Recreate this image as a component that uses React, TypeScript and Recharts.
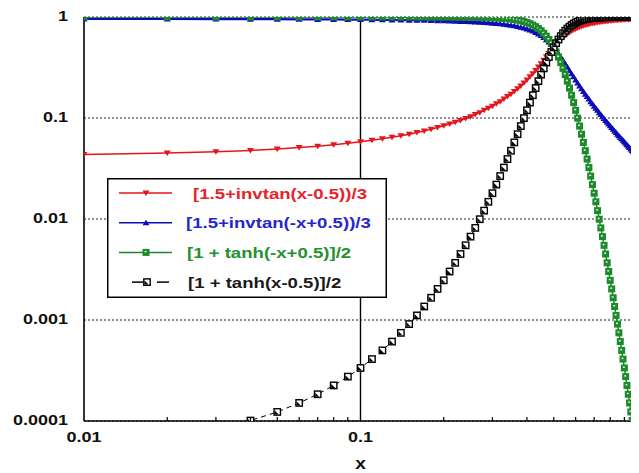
import { LineChart, Line, XAxis, YAxis, CartesianGrid, ReferenceLine, Legend, Label } from "recharts";

// ─── Data (x = 0.01 … 1.00) ─────────────────────────────────────────────────
const xs = [
  0.01, 0.02, 0.03, 0.04, 0.05, 0.06, 0.07, 0.08, 0.09, 0.1,
  0.11, 0.12, 0.13, 0.14, 0.15, 0.16, 0.17, 0.18, 0.19, 0.2,
  0.21, 0.22, 0.23, 0.24, 0.25, 0.26, 0.27, 0.28, 0.29, 0.3,
  0.31, 0.32, 0.33, 0.34, 0.35, 0.36, 0.37, 0.38, 0.39, 0.4,
  0.41, 0.42, 0.43, 0.44, 0.45, 0.46, 0.47, 0.48, 0.49, 0.5,
  0.51, 0.52, 0.53, 0.54, 0.55, 0.56, 0.57, 0.58, 0.59, 0.6,
  0.61, 0.62, 0.63, 0.64, 0.65, 0.66, 0.67, 0.68, 0.69, 0.7,
  0.71, 0.72, 0.73, 0.74, 0.75, 0.76, 0.77, 0.78, 0.79, 0.8,
  0.81, 0.82, 0.83, 0.84, 0.85, 0.86, 0.87, 0.88, 0.89, 0.9,
  0.91, 0.92, 0.93, 0.94, 0.95, 0.96, 0.97, 0.98, 0.99, 1.0,
];

// [1.5+invtan(x-0.5))/3
const invtanUp = [
  0.0435, 0.0449, 0.0463, 0.0478, 0.0493, 0.0509, 0.0526, 0.0543, 0.0562, 0.0581,
  0.0601, 0.0622, 0.0644, 0.0667, 0.0692, 0.0718, 0.0745, 0.0774, 0.0804, 0.0837,
  0.0871, 0.0907, 0.0946, 0.0988, 0.103, 0.108, 0.113, 0.119, 0.125, 0.131,
  0.138, 0.145, 0.154, 0.163, 0.172, 0.183, 0.195, 0.208, 0.222, 0.238,
  0.256, 0.275, 0.296, 0.32, 0.345, 0.373, 0.403, 0.434, 0.467, 0.5,
  0.533, 0.566, 0.597, 0.627, 0.655, 0.68, 0.704, 0.725, 0.744, 0.762,
  0.778, 0.792, 0.805, 0.817, 0.828, 0.837, 0.846, 0.855, 0.862, 0.869,
  0.875, 0.881, 0.887, 0.892, 0.897, 0.901, 0.905, 0.909, 0.913, 0.916,
  0.92, 0.923, 0.926, 0.928, 0.931, 0.933, 0.936, 0.938, 0.94, 0.942,
  0.944, 0.946, 0.947, 0.949, 0.951, 0.952, 0.954, 0.955, 0.956, 0.958,
];

// [1.5+invtan(-x+0.5))/3
const invtanDown = [
  0.956, 0.955, 0.954, 0.952, 0.951, 0.949, 0.947, 0.946, 0.944, 0.942,
  0.94, 0.938, 0.936, 0.933, 0.931, 0.928, 0.926, 0.923, 0.92, 0.916,
  0.913, 0.909, 0.905, 0.901, 0.897, 0.892, 0.887, 0.881, 0.875, 0.869,
  0.862, 0.855, 0.846, 0.837, 0.828, 0.817, 0.805, 0.792, 0.778, 0.762,
  0.744, 0.725, 0.704, 0.68, 0.655, 0.627, 0.597, 0.566, 0.533, 0.5,
  0.467, 0.434, 0.403, 0.373, 0.345, 0.32, 0.296, 0.275, 0.256, 0.238,
  0.222, 0.208, 0.195, 0.183, 0.172, 0.163, 0.154, 0.145, 0.138, 0.131,
  0.125, 0.119, 0.113, 0.108, 0.103, 0.0988, 0.0946, 0.0907, 0.0871, 0.0837,
  0.0804, 0.0774, 0.0745, 0.0718, 0.0692, 0.0667, 0.0644, 0.0622, 0.0601, 0.0581,
  0.0562, 0.0543, 0.0526, 0.0509, 0.0493, 0.0478, 0.0463, 0.0449, 0.0435, 0.0422,
];

// [1 + tanh(-x+0.5)]/2
const tanhDown = [
  0.9999, 0.9999, 0.9999, 0.9999, 0.9999, 0.9998, 0.9998, 0.9998, 0.9997, 0.9997,
  0.9996, 0.9995, 0.9994, 0.9993, 0.9991, 0.9989, 0.9986, 0.9983, 0.998, 0.9975,
  0.997, 0.9963, 0.9955, 0.9945, 0.9933, 0.9918, 0.9901, 0.9879, 0.9852, 0.982,
  0.9781, 0.9734, 0.9677, 0.9608, 0.9526, 0.9427, 0.9309, 0.9168, 0.9003, 0.8808,
  0.8581, 0.832, 0.8022, 0.7685, 0.7311, 0.69, 0.6457, 0.5987, 0.5498, 0.5,
  0.4502, 0.4013, 0.3543, 0.31, 0.2689, 0.2315, 0.1978, 0.168, 0.1419, 0.1192,
  0.0997, 0.0832, 0.0691, 0.0573, 0.0474, 0.0392, 0.0323, 0.0266, 0.0219, 0.018,
  0.0148, 0.0121, 0.00995, 0.00816, 0.00669, 0.00549, 0.0045, 0.00368, 0.00302, 0.00247,
  0.00203, 0.00166, 0.00136, 0.00111, 0.000911, 0.000746, 0.000611, 0.0005, 0.00041, 0.000335,
  0.000275, 0.000225, 0.000184, 0.000151, 0.000123, 0.000101, 0.0000827, 0.0000677, 0.0000554, 0.0000454,
];

// [1 + tanh(x-0.5)]/2
const tanhUp = [
  0.0000554, 0.0000677, 0.0000827, 0.000101, 0.000123, 0.000151, 0.000184, 0.000225, 0.000275, 0.000335,
  0.00041, 0.0005, 0.000611, 0.000746, 0.000911, 0.00111, 0.00136, 0.00166, 0.00203, 0.00247,
  0.00302, 0.00368, 0.0045, 0.00549, 0.00669, 0.00816, 0.00995, 0.0121, 0.0148, 0.018,
  0.0219, 0.0266, 0.0323, 0.0392, 0.0474, 0.0573, 0.0691, 0.0832, 0.0997, 0.1192,
  0.1419, 0.168, 0.1978, 0.2315, 0.2689, 0.31, 0.3543, 0.4013, 0.4502, 0.5,
  0.5498, 0.5987, 0.6457, 0.69, 0.7311, 0.7685, 0.8022, 0.832, 0.8581, 0.8808,
  0.9003, 0.9168, 0.9309, 0.9427, 0.9526, 0.9608, 0.9677, 0.9734, 0.9781, 0.982,
  0.9852, 0.9879, 0.9901, 0.9918, 0.9933, 0.9945, 0.9955, 0.9963, 0.997, 0.9975,
  0.998, 0.9983, 0.9986, 0.9989, 0.9991, 0.9993, 0.9994, 0.9995, 0.9996, 0.9997,
  0.9997, 0.9998, 0.9998, 0.9998, 0.9999, 0.9999, 0.9999, 0.9999, 0.9999, 1.0,
];

const xTicks = [0.01, 0.02, 0.03, 0.04, 0.05, 0.06, 0.07, 0.08, 0.09, 0.1, 0.2, 0.3, 0.4, 0.5, 0.6, 0.7, 0.8, 0.9, 1];
const xMajor = [0.01, 0.1, 1];
const yTicks = [0.0001, 0.001, 0.01, 0.1, 1];

const seriesNames = [
  "[1.5+invtan(x-0.5))/3",
  "[1.5+invtan(-x+0.5))/3",
  "[1 + tanh(-x+0.5)]/2",
  "[1 + tanh(x-0.5)]/2",
];

const data = xs.map((x, i) => ({
  x,
  red: invtanUp[i],
  blue: invtanDown[i],
  green: tanhDown[i],
  black: tanhUp[i],
}));

// ─── Styling ─────────────────────────────────────────────────────────────────
const RED = "#e3161e";
const BLUE = "#0c0cb8";
const GREEN = "#1b8a2a";
const BLACK = "#000";
const FONT = "'Liberation Sans', Arial, sans-serif";
const SX = 1.2; // the source image is stretched horizontally

// ─── Markers ─────────────────────────────────────────────────────────────────
function RedMark({ cx, cy }: { cx: number; cy: number }) {
  return <polygon points={`${cx - 3.5},${cy - 2.5} ${cx + 3.5},${cy - 2.5} ${cx},${cy + 3}`} fill={RED} />;
}
function BlueMark({ cx, cy }: { cx: number; cy: number }) {
  return <polygon points={`${cx - 3.5},${cy + 2.5} ${cx + 3.5},${cy + 2.5} ${cx},${cy - 3}`} fill={BLUE} />;
}
function GreenMark({ cx, cy }: { cx: number; cy: number }) {
  return (
    <g>
      <rect x={cx - 3.5} y={cy - 3.5} width={7} height={7} fill={GREEN} />
      <rect x={cx - 1.5} y={cy - 1.5} width={2} height={1.5} fill="#d8f0d8" />
    </g>
  );
}
function BlackMark({ cx, cy }: { cx: number; cy: number }) {
  return (
    <g>
      <rect x={cx - 3.2} y={cy - 3.2} width={6.4} height={6.4} fill="#fff" stroke={BLACK} strokeWidth={1.4} />
      <polygon points={`${cx - 2.5},${cy + 2.5} ${cx + 1.5},${cy + 2.5} ${cx - 2.5},${cy - 1.5}`} fill={BLACK} />
    </g>
  );
}

const dotFn = (Mark: any, tag: string) => (p: any) =>
  p.cx == null || p.cy == null ? <g key={`${tag}${p.index}`} /> : <Mark key={`${tag}${p.index}`} cx={p.cx} cy={p.cy} />;

// ─── Axis ticks ──────────────────────────────────────────────────────────────
function YTick({ x, y, payload }: any) {
  return (
    <text
      transform={`translate(${x - 16},${y + 4}) scale(${SX},1)`}
      textAnchor="end"
      fontFamily={FONT}
      fontWeight="bold"
      fontSize={15}
      fill="#111"
    >
      {String(payload.value)}
    </text>
  );
}

function XTick({ x, y, payload }: any) {
  const major = xMajor.includes(payload.value);
  if (!major) return <line x1={x} y1={y} x2={x} y2={y - 4} stroke={BLACK} strokeWidth={1.2} />;
  return (
    <text
      transform={`translate(${x},${y + 21}) scale(${SX},1)`}
      textAnchor="middle"
      fontFamily={FONT}
      fontWeight="bold"
      fontSize={15}
      fill="#111"
    >
      {String(payload.value)}
    </text>
  );
}

// ─── Legend box ──────────────────────────────────────────────────────────────
const legendRows = [
  { color: RED, text: "#e8222c", Mark: RedMark, dash: false, tx: 86 },
  { color: BLUE, text: "#2626cc", Mark: BlueMark, dash: false, tx: 79 },
  { color: GREEN, text: "#23912f", Mark: GreenMark, dash: false, tx: 80 },
  { color: BLACK, text: "#1a1a1a", Mark: BlackMark, dash: true, tx: 81 },
];

function LegendBox() {
  return (
    <svg width={281} height={121} style={{ display: "block" }}>
      <rect x={0.75} y={0.75} width={278.5} height={118.5} fill="#fff" stroke={BLACK} strokeWidth={1.5} />
      {legendRows.map((row, i) => {
        const cy = 15 + i * 29.7;
        return (
          <g key={i}>
            {row.dash ? (
              <>
                <line x1={25} y1={cy} x2={36} y2={cy} stroke={row.color} strokeWidth={1.5} />
                <line x1={50} y1={cy} x2={62} y2={cy} stroke={row.color} strokeWidth={1.5} />
              </>
            ) : (
              <line x1={12} y1={cy} x2={65} y2={cy} stroke={row.color} strokeWidth={1.5} />
            )}
            <row.Mark cx={row.dash ? 40 : 39} cy={cy} />
            <text
              transform={`translate(${row.tx},${cy + 5.5}) scale(1.24,1)`}
              fontFamily={FONT}
              fontWeight="bold"
              fontSize={15}
              fill={row.text}
            >
              {seriesNames[i]}
            </text>
          </g>
        );
      })}
    </svg>
  );
}

// ─── Main export ─────────────────────────────────────────────────────────────
export default function App() {
  return (
    <div style={{ margin: "-8px 0 0 -8px", width: 639, height: 473, overflow: "hidden", background: "#fff", position: "relative" }}>
      <LineChart width={680} height={473} data={data} margin={{ top: 17, right: 43, bottom: 0, left: 0 }}>
        <CartesianGrid horizontal vertical={false} stroke="#222" strokeDasharray="2 2" strokeWidth={1} />

        <XAxis
          dataKey="x"
          type="number"
          scale="log"
          domain={[0.01, 1]}
          allowDataOverflow
          ticks={xTicks}
          interval={0}
          height={52}
          tickSize={0}
          tickMargin={0}
          tickLine={false}
          tick={<XTick />}
          axisLine={{ stroke: BLACK, strokeWidth: 1.6 }}
        >
          <Label
            content={({ viewBox }: any) => (
              <text
                transform={`translate(${viewBox.x + viewBox.width / 2},${viewBox.y + 48}) scale(${SX},1)`}
                textAnchor="middle"
                fontFamily={FONT}
                fontWeight="bold"
                fontSize={16}
                fill="#111"
              >
                x
              </text>
            )}
          />
        </XAxis>

        <YAxis
          type="number"
          scale="log"
          domain={[0.0001, 1]}
          allowDataOverflow
          ticks={yTicks}
          interval={0}
          width={84}
          tickSize={0}
          tickMargin={0}
          tickLine={false}
          tick={<YTick />}
          axisLine={{ stroke: BLACK, strokeWidth: 1.6 }}
        />

        {/* solid verticals at the 0.1 decade and the right frame */}
        <ReferenceLine x={0.1} stroke={BLACK} strokeWidth={1.4} />
        <ReferenceLine x={1} stroke={BLACK} strokeWidth={1.6} />

        <Line dataKey="red" stroke={RED} strokeWidth={1.5} dot={dotFn(RedMark, "r")} activeDot={false} isAnimationActive={false} />
        <Line dataKey="blue" stroke={BLUE} strokeWidth={2.2} dot={dotFn(BlueMark, "b")} activeDot={false} isAnimationActive={false} />
        <Line dataKey="green" stroke={GREEN} strokeWidth={1.5} dot={dotFn(GreenMark, "g")} activeDot={false} isAnimationActive={false} />
        <Line
          dataKey="black"
          stroke={BLACK}
          strokeWidth={1}
          strokeDasharray="5 4"
          dot={dotFn(BlackMark, "k")}
          activeDot={false}
          isAnimationActive={false}
        />

        <Legend
          layout="horizontal"
          verticalAlign="middle"
          align="center"
          content={() => <LegendBox />}
          wrapperStyle={{ position: "absolute", left: 107, top: 178, width: 281, height: 121, margin: 0 }}
        />
      </LineChart>
    </div>
  );
}
